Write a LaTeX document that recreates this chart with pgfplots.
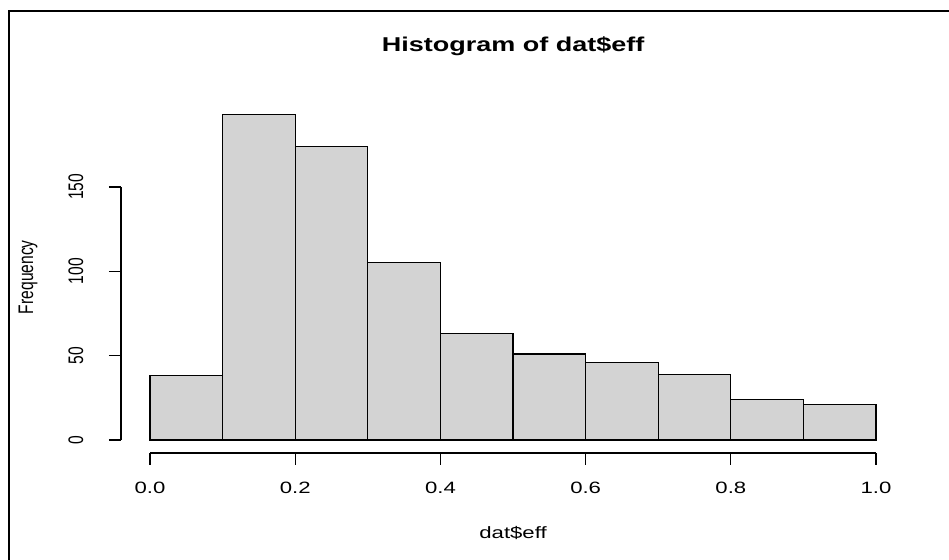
\documentclass[border=0pt]{standalone}
\usepackage{fontspec}
\setmainfont[FakeStretch=1.35]{Liberation Sans}
\newfontfamily\rotfont{Liberation Sans}
\usepackage{graphicx}
\usepackage{pgfplots}
\pgfplotsset{compat=1.18}
\definecolor{barfill}{HTML}{D3D3D3}
\begin{document}
\begin{tikzpicture}
\useasboundingbox (0,0) rectangle (474.5pt,280pt);
\draw[line width=1.1pt] (4.5pt,-1pt) -- (4.5pt,274.5pt) -- (475.5pt,274.5pt);
\begin{axis}[
  at={(60.5pt,53.5pt)}, anchor=south west,
  x=363pt, y=0.8435pt,
  xmin=-0.04, xmax=1.04, ymin=-7.72, ymax=200.7,
  clip=false,
  axis x line*=bottom, axis y line*=left,
  x axis line style={draw=none}, y axis line style={draw=none},
  tick align=outside, major tick length=6pt,
  tick style={line width=0.6pt, black},
  xtick={0,0.2,0.4,0.6,0.8,1.0},
  xticklabels={0.0,0.2,0.4,0.6,0.8,1.0},
  ytick={0,50,100,150},
  /pgf/number format/assume math mode=true,
  xticklabel style={font=\fontsize{8.2}{10}\selectfont, anchor=center, yshift=-11.5pt},
  yticklabel={\scalebox{1}[1.35]{\pgfmathprintnumber{\tick}}},
  yticklabel style={font=\rotfont\fontsize{7.8}{10}\selectfont, anchor=center, xshift=-16.5pt, rotate=90},
  title={Histogram of dat\$eff},
  title style={at={(axis description cs:0.5,1.123)}, anchor=center, yshift=0pt, font=\bfseries\fontsize{10}{12}\selectfont},
  xlabel={dat\$eff},
  xlabel style={at={(axis description cs:0.5,-0.2275)}, anchor=center, font=\fontsize{8.2}{10}\selectfont},
  ylabel={\scalebox{1}[1.35]{Frequency}},
  ylabel style={at={(axis description cs:-0.1186,0.5)}, anchor=center, font=\rotfont\fontsize{7.8}{10}\selectfont},
]
\addplot[ybar interval, fill=barfill, draw=black, line width=0.6pt] coordinates {
  (0.0,38) (0.1,193) (0.2,174) (0.3,105) (0.4,63) (0.5,51) (0.6,46) (0.7,39) (0.8,24) (0.9,21) (1.0,21)
};
\draw[line width=0.6pt] (axis cs:0,-7.72) -- (axis cs:1,-7.72);
\draw[line width=0.6pt] (axis cs:-0.04,0) -- (axis cs:-0.04,150);
\end{axis}
\end{tikzpicture}
\end{document}
